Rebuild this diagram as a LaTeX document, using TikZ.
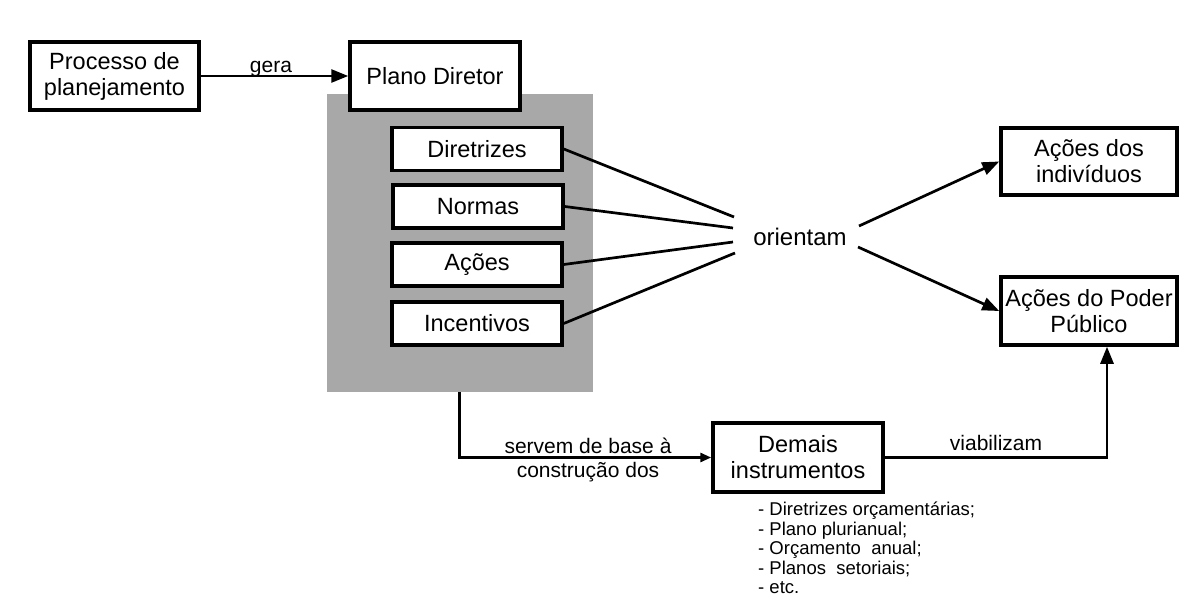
\documentclass[tikz,border=0pt]{standalone}
\usepackage{fontspec}
\setmainfont{Liberation Sans}
\usetikzlibrary{arrows.meta,calc}
\definecolor{panelgray}{RGB}{168,168,168}
\begin{document}
\begin{tikzpicture}[x=1pt,y=-1pt,
  box/.style={draw=black, line width=3.5pt, fill=white, align=center,
    inner sep=0pt, font=\fontsize{23.5}{26}\selectfont},
  itembox/.style={box, minimum width=170pt, minimum height=43pt},
  bigbox/.style={box, minimum width=170pt, minimum height=68pt},
  lbl/.style={font=\fontsize{21}{24}\selectfont, inner sep=0pt},
  conn/.style={line width=2.7pt},
  arr/.style={conn, -{Triangle[length=17pt,width=13pt]}},
  smallarr/.style={conn, -{Triangle[length=11pt,width=9pt]}}]
\useasboundingbox (0,0) rectangle (1182,609);

% shaded panel holding the contents of the plan
\node[fill=panelgray, inner sep=0pt, minimum width=266pt, minimum height=298pt] (panel) at (460,243) {};

% top row
\node[bigbox, minimum width=169pt] (proc) at (114.5,76) {Processo de\\planejamento};
\node[bigbox] (plano) at (435,76) {Plano Diretor};
\draw[arr] (proc.east) -- (plano.west);
\node[lbl, anchor=base] (gera) at (271,73) {gera};

% contents of the plan
\node[itembox] (dir) at (477,149) {Diretrizes};
\node[itembox] (norm) at (478,206.5) {Normas};
\node[itembox] (aco) at (477,264.5) {Ações};
\node[itembox] (inc) at (477,323.5) {Incentivos};

% fan into "orientam"
\node[font=\fontsize{24}{26}\selectfont, inner sep=0pt] (ori) at (800,237) {orientam};
\coordinate (f1) at (734,217);
\coordinate (f2) at (733,228);
\coordinate (f3) at (733,242);
\coordinate (f4) at (735,253);
\draw[conn] (dir.east) -- (f1);
\draw[conn] (norm.east) -- (f2);
\draw[conn] (aco.east) -- (f3);
\draw[conn] (inc.east) -- (f4);

% targets on the right
\node[bigbox, minimum width=176pt, minimum height=67pt] (ind) at (1089,161.5) {Ações dos\\indivíduos};
\node[bigbox, minimum width=176pt] (pub) at (1089,311) {Ações do Poder\\Público};
\coordinate (o1) at (859,226);
\coordinate (o2) at (858,247);
\draw[arr] (o1) -- (ind.west);
\draw[arr] (o2) -- (pub.west);

% other instruments
\node[bigbox, minimum height=69pt] (dem) at (798,457.5) {Demais\\instrumentos};
\coordinate (drop) at ($(panel.south west)+(133,0)$);
\draw[smallarr] (drop) |- (dem.west);
\node[lbl, anchor=base] (serv1) at (588,453) {servem de base à};
\node[lbl, anchor=base] (serv2) at (588,477) {construção dos};

\coordinate (rise) at ($(pub.south)+(18,0)$);
\draw[arr] (dem.east) -| (rise);
\node[lbl, anchor=base] (viab) at (996,450) {viabilizam};

% list of instruments
\node[anchor=north west, align=left, inner sep=0pt,
  font=\fontsize{18.5}{19.5}\selectfont] (lista) at (758,502)
  {- Diretrizes orçamentárias;\\
   - Plano plurianual;\\
   - Orçamento\ \ anual;\\
   - Planos\ \ setoriais;\\
   - etc.};
\end{tikzpicture}
\end{document}
